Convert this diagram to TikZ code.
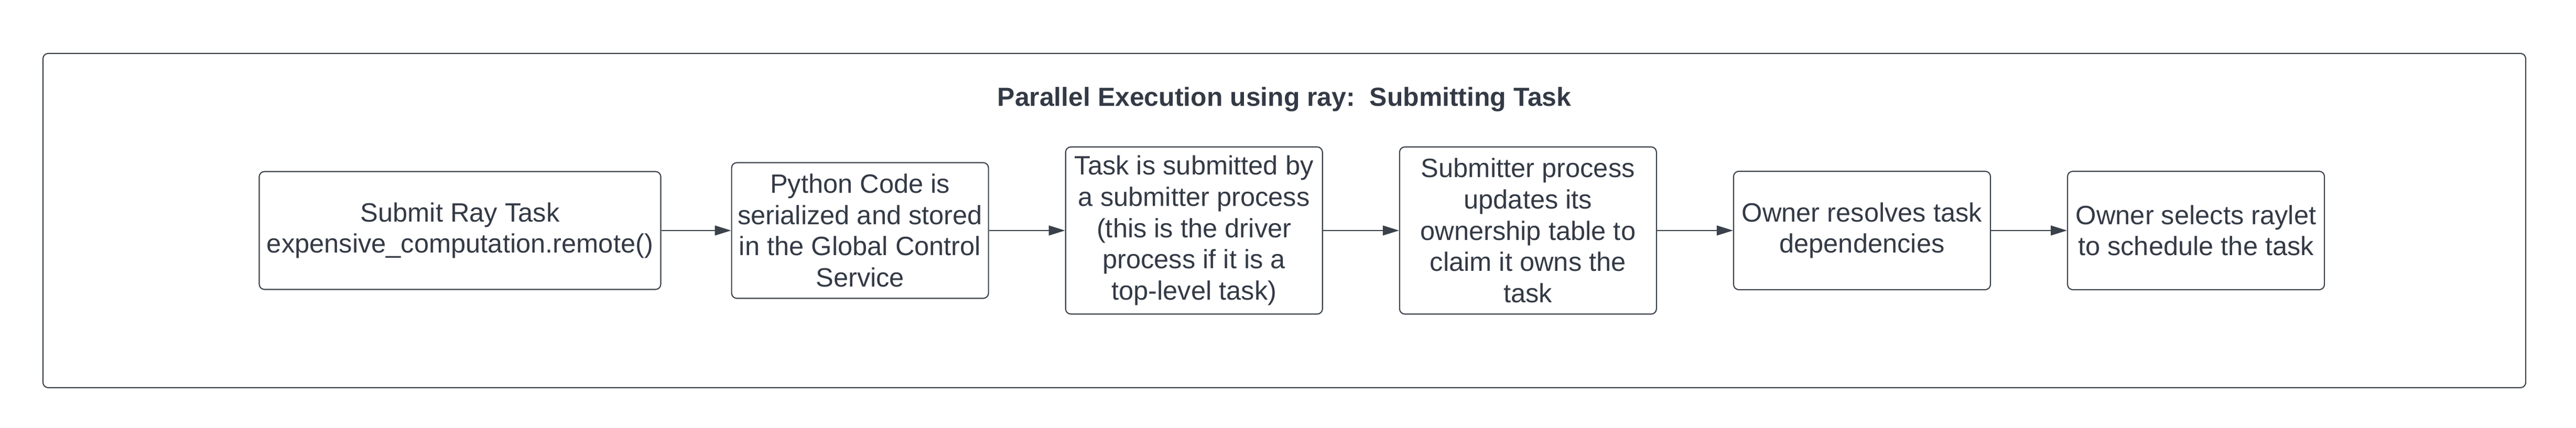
\documentclass[tikz,border=0pt]{standalone}
\usepackage{fontspec}
\setmainfont{Liberation Sans}
\usepackage{xcolor}
\definecolor{rayline}{HTML}{3A414A}
\definecolor{raytext}{HTML}{333A45}
\usetikzlibrary{arrows.meta, positioning}

\begin{document}
\begin{tikzpicture}[
    node distance=1.45cm,
    stepbox/.style={rectangle, rounded corners=0.1cm, draw=rayline, line width=0.6pt, minimum width=4.9cm, text=raytext, font=\fontsize{14.4}{17}\selectfont, align=center, inner sep=0pt},
    arrow/.style={-{Triangle[length=0.31cm, width=0.19cm]}, line width=0.4pt, draw=rayline}
]
\useasboundingbox (0,0) rectangle (49.14,8.16);

% Outer frame
\node[draw=rayline, rounded corners=0.1cm, line width=0.6pt, minimum width=47.36cm, minimum height=6.38cm, inner sep=0pt] (frame) at (24.5,3.95) {};

% Title
\node[font=\fontsize{14.2}{17}\selectfont\bfseries, text=raytext] (title) at (24.5,6.26) {Parallel Execution using ray:\ \ Submitting Task};

% Step 1: Submit
\node[stepbox, minimum width=7.66cm, minimum height=2.25cm] (submit) at (8.775,3.76) {Submit Ray Task\\expensive\_computation.remote()};

% Step 2: Serialize
\node[stepbox, minimum height=2.59cm, right=1.33cm of submit] (serial) {Python Code is\\serialized and stored\\in the Global Control\\Service};

% Step 3: Submitter
\node[stepbox, minimum height=3.19cm, right=of serial] (submitter) {Task is submitted by\\a submitter process\\(this is the driver\\process if it is a\\top-level task)};

% Step 4: Ownership
\node[stepbox, minimum height=3.19cm, right=of submitter] (owner) {Submitter process\\updates its\\ownership table to\\claim it owns the\\task};

% Step 5: Dependencies
\node[stepbox, minimum height=2.26cm, right=of owner] (resolve) {Owner resolves task\\dependencies};

% Step 6: Raylet
\node[stepbox, minimum height=2.26cm, right=of resolve] (raylet) {Owner selects raylet\\to schedule the task};

% Arrows
\draw[arrow] (submit.east) -- (serial.west);
\draw[arrow] (serial.east) -- (submitter.west);
\draw[arrow] (submitter.east) -- (owner.west);
\draw[arrow] (owner.east) -- (resolve.west);
\draw[arrow] (resolve.east) -- (raylet.west);

\end{tikzpicture}
\end{document}
